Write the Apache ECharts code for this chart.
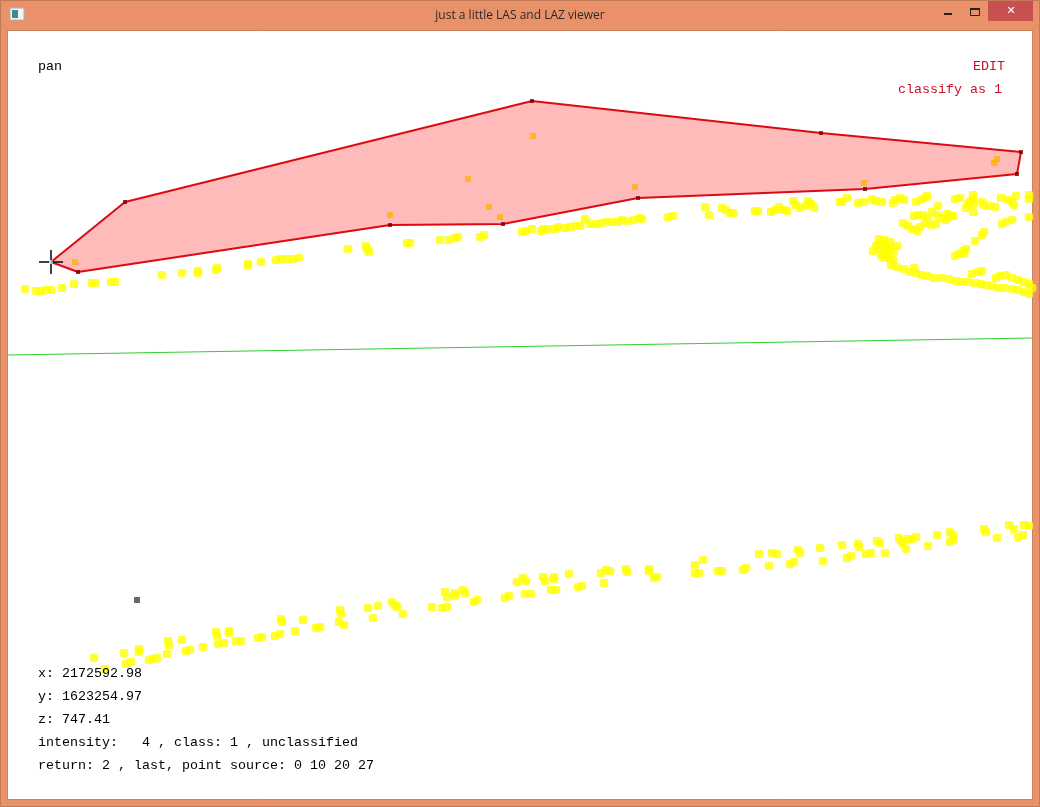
<!DOCTYPE html>
<html><head><meta charset="utf-8">
<style>html,body{margin:0;padding:0;background:#E9926A}#c{width:1040px;height:807px}</style>
<script src="https://cdn.jsdelivr.net/npm/echarts@6/dist/echarts.min.js"></script>
</head><body><div id="c"></div>
<script>
const windowTitle = "just a little LAS and LAZ viewer";
const modeLabel = "pan";
const editLabels = [["EDIT", 973, 66], ["classify as 1", 898, 89]];
const infoLines = [
  ["x: 2172592.98", 673], ["y: 1623254.97", 696], ["z: 747.41", 719],
  ["intensity:   4 , class: 1 , unclassified", 742],
  ["return: 2 , last, point source: 0 10 20 27", 765]
];
const upperBand = [[25,289],[36,291],[41,291],[46,290],[51,290],[62,288],[74,284],[92,283],[95,283],[111,282],[115,282],
 [162,275],[182,273],[198,271],[198,273],[217,268],[216,270],[248,264],[248,266],[261,262],[276,260],[281,259],[287,259],[293,259],[299,258],
 [348,249],[366,246],[367,249],[369,252],[407,243],[410,243],[440,240],[449,240],[455,238],[458,237],[480,237],[484,235],
 [522,232],[526,231],[532,229],[541,231],[543,229],[548,229],[555,229],[558,227],[565,228],[570,227],[576,226],[580,226],
 [585,219],[590,224],[596,224],[601,223],[606,222],[612,222],[618,222],[622,220],[628,221],[634,220],[640,218],[642,219],
 [668,217],[673,216],
 [705,207],[709,215],[722,208],[726,210],[730,213],[733,213],[755,211],[758,211],[771,212],[775,210],[779,207],[783,210],[787,211],
 [793,201],[796,205],[800,208],[806,206],[808,201],[811,204],[814,208],
 [840,202],[842,202],[847,198],[858,203],[864,202],[872,199],[876,201],[882,202],[893,203],[895,200],[900,198],[904,200],
 [916,202],[921,200],[925,198],[927,196],[955,199],[960,198],[966,208],[968,204],[970,202],[973,195],[973,199],[973,204],[973,212],
 [982,202],[984,205],[990,206],[995,207],[1001,198],[1008,200],[1012,202],[1014,205],[1016,196],[1029,195],[1029,199]];
const cliffCluster = [[1029,217],[1002,224],[1006,222],[1012,220],[984,232],[982,235],[975,241],[955,256],[959,254],[963,251],[966,249],[964,254],
 [938,206],[914,216],[918,215],[903,223],[908,226],[912,229],[917,231],[920,227],[925,223],[923,215],[932,212],[928,218],
 [936,224],[938,215],[941,218],[931,225],[947,214],[951,216],[948,218],[953,216],[946,220]];
const arcBand = [[879,239],[884,240],[890,242],[897,246],[879,244],[885,246],[891,247],[873,251],[879,249],[885,251],[881,255],[887,255],[890,258],[893,260],
 [876,246],[882,243],[888,250],[884,258],[894,251],
 [891,265],[897,267],[904,269],[910,272],[914,268],[916,273],[922,275],[927,276],[934,278],[942,278],[949,279],[956,281],[962,282],[968,282],[975,283],[981,284],
 [986,285],[992,286],[998,288],[1004,288],[1012,289],[1018,290],[1024,292],[1029,294],[1032,288],
 [972,274],[978,272],[982,271],[996,278],[1000,276],[1006,275],[1012,278],[1018,280],[1024,282],[1029,284]];
const lowerBand = [[94,658],[105,669],[124,653],[126,664],[131,662],[139,649],[139,652],[149,660],[153,659],[157,658],[167,654],[168,641],[169,645],
 [182,640],[186,651],[190,650],[203,647],[216,632],[217,636],[218,644],[224,643],[229,631],[229,633],[236,641],[241,641],
 [258,638],[262,637],[275,636],[280,634],[281,619],[282,622],[295,631],[303,620],[316,628],[320,627],
 [340,610],[341,614],[339,622],[344,625],[368,608],[373,618],[378,606],[392,602],[395,605],[397,607],
 [403,614],[432,607],[442,608],[447,607],[445,592],[447,597],[455,593],[455,596],[463,590],[465,593],[474,602],[477,600],
 [505,598],[509,596],[517,582],[523,578],[526,581],[525,594],[531,594],[543,577],[545,581],[554,577],[554,579],[551,590],[556,590],
 [569,574],[578,587],[582,586],[601,573],[606,570],[610,571],[604,583],[626,569],[627,572],[649,569],[649,571],[654,578],[657,577],
 [695,565],[703,560],[695,573],[699,573],[718,571],[722,571],[743,570],[746,568],[759,554],[769,566],[772,553],[777,554],
 [790,564],[794,562],[798,550],[800,553],[820,548],[823,561],[842,545],[847,558],[851,556],[858,544],[859,547],
 [866,554],[871,553],[877,541],[880,543],[885,553],[899,538],[901,541],[903,544],[906,549],[908,539],[912,539],[916,537],
 [928,546],[937,535],[950,542],[953,540],[950,532],[953,535],[984,529],[986,532],[997,538],[1009,525],[1014,529],[1018,537],[1023,535],[1024,525],[1029,526]];
const insidePoints = [[75,262],[390,215],[468,179],[489,207],[500,217],[533,136],[635,187],[864,183],[994,163],[997,159]];
const polygonVertices = [[51,262],[125,202],[532,101],[821,133],[1021,152],[1017,174],[865,189],[638,198],[503,224],[390,225],[78,272]];
const groundLine = [[8,355],[1032,338]];
const selectedPoint = [[137,600]];
const cursorPoint = [[51,262]];

const mono = '"Liberation Mono"';
const textEl = (s, x, y, fill) => ({type:'text', z:100, silent:true, x, y,
  style:{text:s, fill, font:'13.33px '+mono, verticalAlign:'middle'}});
const rectEl = (x,y,w,h,fill,stroke) => ({type:'rect', z:1, silent:true, shape:{x,y,width:w,height:h}, style:{fill, stroke:stroke||null, lineWidth:1}});
const dot = [8.5,8];

const chart = echarts.init(document.getElementById('c'), null, {width:1040, height:807, renderer:'canvas'});
chart.setOption({
  animation:false,
  backgroundColor:'#E9926A',
  grid:{left:8, top:31, width:1024, height:768, show:true, backgroundColor:'#fff', borderWidth:0},
  xAxis:{type:'value', min:8, max:1032, show:false},
  yAxis:{type:'value', min:31, max:799, inverse:true, show:false},
  graphic:[
    rectEl(0.5,0.5,1039,806,'transparent','#C07A55'),
    rectEl(7.5,30.5,1025,769,'transparent','#C9845F'),
    rectEl(988,1,45,20,'#C75050'),
    {type:'text', z:100, silent:true, x:1011, y:11, style:{text:'\u2715', fill:'#fff', font:'bold 11px "DejaVu Sans"', align:'center', verticalAlign:'middle'}},
    rectEl(944,13,8,2,'#222'),
    rectEl(970.5,8.5,9,7,'transparent','#222'),
    rectEl(970,8,10,2,'#222'),
    rectEl(10,8,14,12,'#F4F4F4','#B0B0B0'),
    rectEl(12,10,6,8,'#3F8A8A'),
    {type:'text', z:100, silent:true, x:520, y:16, style:{text:windowTitle, fill:'#2a2a2a', font:'12px "Open Sans"', align:'center', verticalAlign:'middle'}},
    textEl(modeLabel, 38, 66, '#000'),
    ...editLabels.map(l => textEl(l[0], l[1], l[2], '#C8102A')),
    ...infoLines.map(l => textEl(l[0], 38, l[1], '#000'))
  ],
  series:[
    {type:'custom', name:'selection fill', z:2, silent:true, clip:true, data:[0],
      renderItem:(p,api)=>({type:'polygon', shape:{points:polygonVertices.map(v=>api.coord(v))}, style:{fill:'#FFBABA'}})},
    {type:'line', name:'ground', z:3, silent:true, symbol:'none', data:groundLine, lineStyle:{color:'#2FD02F', width:1}},
    {type:'line', name:'selection outline', z:4, silent:true, symbol:'none', data:[...polygonVertices, polygonVertices[0]], lineStyle:{color:'#DD0A14', width:2}},
    {type:'scatter', name:'upper', z:5, silent:true, symbol:'roundRect', symbolSize:dot, itemStyle:{color:'#FFFF00'}, data:upperBand},
    {type:'scatter', name:'cluster', z:5, silent:true, symbol:'roundRect', symbolSize:dot, itemStyle:{color:'#FFFF00'}, data:cliffCluster},
    {type:'scatter', name:'arc', z:5, silent:true, symbol:'roundRect', symbolSize:dot, itemStyle:{color:'#FFFF00'}, data:arcBand},
    {type:'scatter', name:'lower', z:5, silent:true, symbol:'roundRect', symbolSize:dot, itemStyle:{color:'#FFFF00'}, data:lowerBand},
    {type:'scatter', name:'inside', z:6, silent:true, symbol:'rect', symbolSize:6, itemStyle:{color:'#FFB300'}, data:insidePoints},
    {type:'scatter', name:'vertices', z:7, silent:true, symbol:'rect', symbolSize:4, itemStyle:{color:'#7A0000'}, data:polygonVertices.slice(1)},
    {type:'scatter', name:'selected', z:7, silent:true, symbol:'rect', symbolSize:6, itemStyle:{color:'#444'}, data:selectedPoint},
    {type:'scatter', name:'cursor', z:8, silent:true, symbol:'path://M11 0h2v10h-2zM11 14h2v10h-2zM0 11h10v2H0zM14 11h10v2H14z', symbolSize:24, symbolKeepAspect:true, itemStyle:{color:'#111'}, data:cursorPoint},
    {type:'scatter', name:'cursor dot', z:9, silent:true, symbol:'circle', symbolSize:4, itemStyle:{color:'#7FE0D8'}, data:cursorPoint}
  ]
});
</script></body></html>
